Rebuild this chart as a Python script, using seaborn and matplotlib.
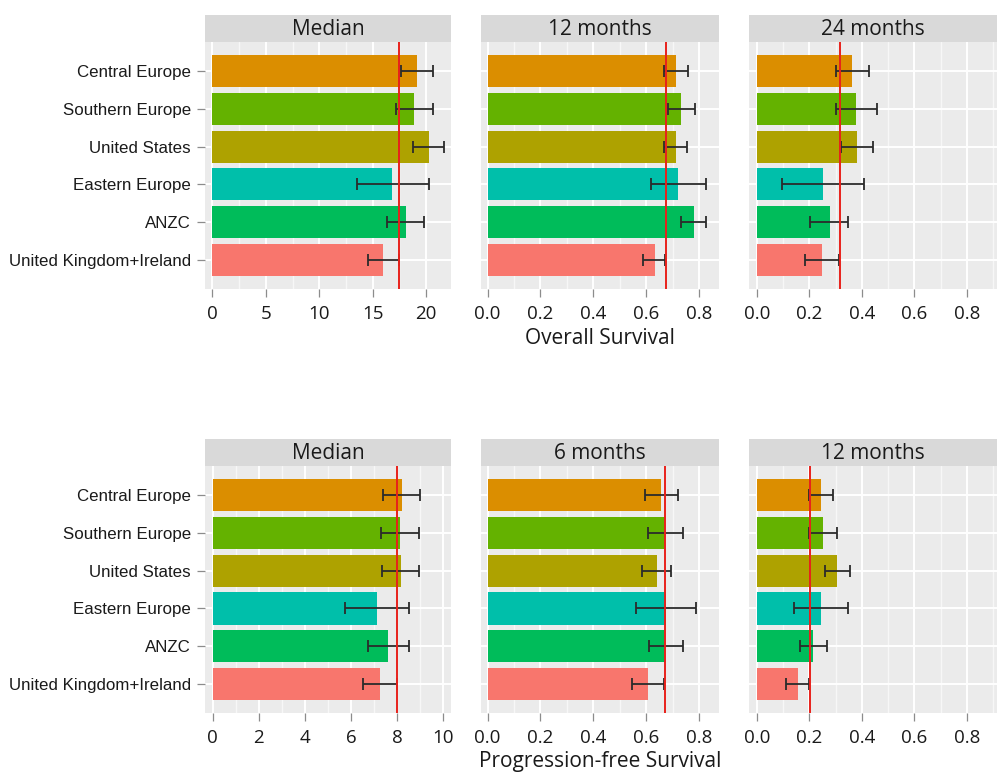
import numpy as np
import pandas as pd
import matplotlib
matplotlib.use("Agg")
import matplotlib.pyplot as plt
from matplotlib.ticker import MultipleLocator, FormatStrFormatter
import seaborn as sns

# ==========================================
# DATA
# ==========================================
regions = ["Central Europe", "Southern Europe", "United States",
           "Eastern Europe", "ANZC", "United Kingdom+Ireland"]
region_colors = ["#DB8E00", "#64B200", "#AEA200", "#00BFAA", "#00BC5A", "#F8766D"]

# Overall survival
os_median = [19.2, 18.9, 20.3, 16.8, 18.1, 16.0]
os_median_lo = [17.7, 17.2, 18.8, 13.5, 16.4, 14.6]
os_median_hi = [20.7, 20.7, 21.7, 20.3, 19.8, 17.5]
os_median_ref = 17.5

os_12m = [0.713, 0.734, 0.713, 0.722, 0.781, 0.632]
os_12m_lo = [0.669, 0.683, 0.669, 0.617, 0.733, 0.588]
os_12m_hi = [0.760, 0.785, 0.755, 0.826, 0.826, 0.673]
os_12m_ref = 0.675

os_24m = [0.364, 0.378, 0.382, 0.251, 0.277, 0.249]
os_24m_lo = [0.302, 0.302, 0.321, 0.094, 0.202, 0.185]
os_24m_hi = [0.429, 0.456, 0.443, 0.409, 0.348, 0.312]
os_24m_ref = 0.315

# Progression-free survival
pfs_median = [8.19, 8.12, 8.15, 7.11, 7.62, 7.25]
pfs_median_lo = [7.40, 7.30, 7.33, 5.74, 6.75, 6.53]
pfs_median_hi = [8.99, 8.94, 8.94, 8.51, 8.51, 7.98]
pfs_median_ref = 8.0

pfs_6m = [0.657, 0.673, 0.641, 0.676, 0.673, 0.608]
pfs_6m_lo = [0.597, 0.606, 0.583, 0.562, 0.610, 0.545]
pfs_6m_hi = [0.720, 0.738, 0.694, 0.789, 0.738, 0.667]
pfs_6m_ref = 0.670

pfs_12m = [0.245, 0.251, 0.305, 0.246, 0.213, 0.156]
pfs_12m_lo = [0.197, 0.197, 0.258, 0.142, 0.163, 0.112]
pfs_12m_hi = [0.290, 0.306, 0.353, 0.348, 0.267, 0.199]
pfs_12m_ref = 0.201

# ==========================================
# LAYOUT
# ==========================================
W, H = 998, 772
PANEL_BG = "#EBEBEB"
STRIP_BG = "#D9D9D9"
TXT = "#1A1A1A"
SANS2 = ["Open Sans", "DejaVu Sans"]

# (left px, right px) per column; (top px, bottom px, strip top px) per row
cols_px = [(205, 451), (481, 719), (749, 997)]
rows_px = [(41.7, 289.3, 15.0), (466.0, 713.3, 439.3)]

panels = [
    # row 0
    ("Median", os_median, os_median_lo, os_median_hi, os_median_ref, (-0.7, 22.35), 5, 2.5),
    ("12 months", os_12m, os_12m_lo, os_12m_hi, os_12m_ref, (-0.025, 0.876), 0.2, 0.1),
    ("24 months", os_24m, os_24m_lo, os_24m_hi, os_24m_ref, (-0.03, 0.915), 0.2, 0.1),
    # row 1
    ("Median", pfs_median, pfs_median_lo, pfs_median_hi, pfs_median_ref, (-0.33, 10.33), 2, 1),
    ("6 months", pfs_6m, pfs_6m_lo, pfs_6m_hi, pfs_6m_ref, (-0.025, 0.876), 0.2, 0.1),
    ("12 months", pfs_12m, pfs_12m_lo, pfs_12m_hi, pfs_12m_ref, (-0.03, 0.915), 0.2, 0.1),
]
row_titles = ["Overall Survival", "Progression-free Survival"]

sns.set_theme(style="white")
plt.rcParams["font.family"] = ["Liberation Sans", "DejaVu Sans"]

fig = plt.figure(figsize=(W / 100, H / 100), dpi=100)
palette = dict(zip(regions, region_colors))

for i, (title, vals, lo, hi, ref, xlim, major, minor) in enumerate(panels):
    r, c = divmod(i, 3)
    x0, x1 = cols_px[c]
    top, bot, stop = rows_px[r]
    ax = fig.add_axes([x0 / W, 1 - bot / H, (x1 - x0) / W, (bot - top) / H])
    ax.set_facecolor(PANEL_BG)

    df = pd.DataFrame({"region": regions, "value": vals})
    sns.barplot(data=df, x="value", y="region", hue="region", order=regions,
                hue_order=regions, palette=palette, legend=False, width=0.85,
                linewidth=0, saturation=1, ax=ax, zorder=2)

    vals_a = np.array(vals)
    xerr = [vals_a - np.array(lo), np.array(hi) - vals_a]
    ax.errorbar(vals_a, np.arange(len(regions)), xerr=xerr, fmt="none",
                ecolor="#2B2B2B", elinewidth=1.3, capsize=4.6, capthick=1.3, zorder=4)
    ax.axvline(ref, color="#E8211B", lw=1.4, zorder=5)

    ax.set_xlim(*xlim)
    ax.set_ylim(len(regions) - 1 + 0.78, -0.78)
    ax.xaxis.set_major_locator(MultipleLocator(major))
    ax.xaxis.set_minor_locator(MultipleLocator(minor))
    ax.set_axisbelow(True)
    ax.grid(True, which="major", color="white", lw=1.4, zorder=0)
    ax.grid(True, which="minor", axis="x", color="#F7F7F7", lw=1.0, zorder=0)
    for s in ax.spines.values():
        s.set_visible(False)

    if major < 1:
        ax.xaxis.set_major_formatter(FormatStrFormatter("%.1f"))
    ax.tick_params(axis="x", which="major", bottom=True, length=6, width=0.9,
                   color="#8C8C8C", pad=5, labelsize=13.5, labelcolor=TXT)
    ax.tick_params(axis="x", which="minor", bottom=False)
    for lab in ax.get_xticklabels():
        lab.set_family(SANS2)
    ax.set_xlabel("")
    ax.set_ylabel("")
    if c == 0:
        ax.tick_params(axis="y", left=True, length=6, width=0.9, color="#8C8C8C",
                       pad=4, labelsize=12.2, labelcolor=TXT)
    else:
        ax.tick_params(axis="y", left=False, labelleft=False)

    # facet strip
    sax = fig.add_axes([x0 / W, 1 - top / H, (x1 - x0) / W, (top - stop) / H])
    sax.set_facecolor(STRIP_BG)
    sax.set_xticks([])
    sax.set_yticks([])
    for s in sax.spines.values():
        s.set_visible(False)
    sax.text(0.5, 0.45, title, ha="center", va="center", fontsize=15,
             color=TXT, family=SANS2, transform=sax.transAxes)

# row titles under the middle column
mid_x = (cols_px[1][0] + cols_px[1][1]) / 2 / W
fig.text(mid_x, 1 - 338 / H, row_titles[0], ha="center", va="center",
         fontsize=15, color=TXT, family=SANS2)
fig.text(mid_x, 1 - 762 / H, row_titles[1], ha="center", va="center",
         fontsize=15, color=TXT, family=SANS2)

fig.savefig("out.png", dpi=100)
